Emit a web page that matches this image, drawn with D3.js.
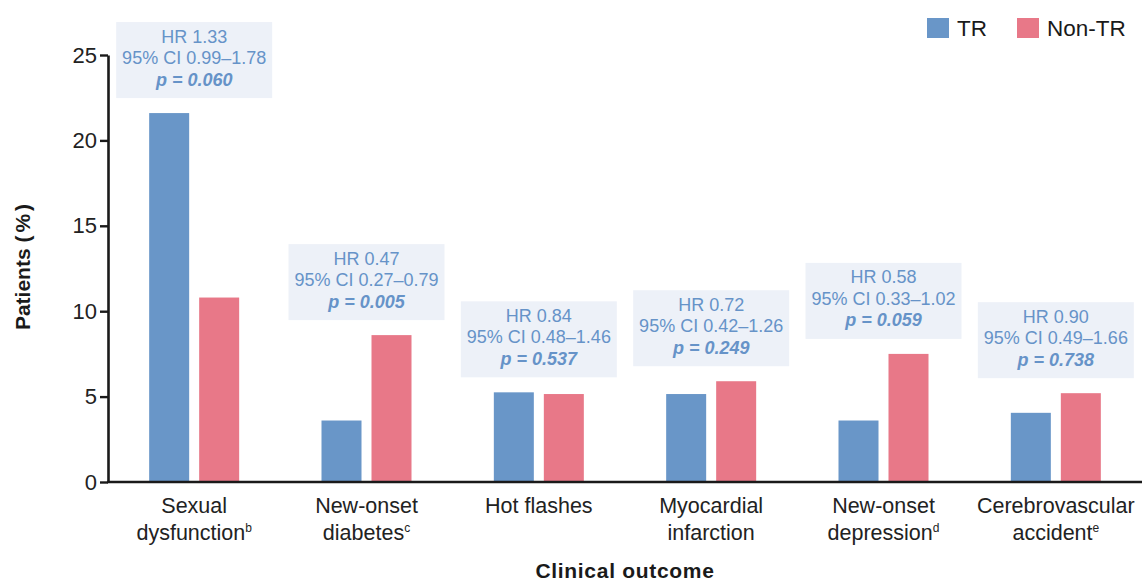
<!DOCTYPE html>
<html>
<head>
<meta charset="utf-8">
<script src="https://cdn.jsdelivr.net/npm/d3@7"></script>
<style>
  html, body { margin: 0; padding: 0; background: #fff; }
  svg { display: block; font-family: "Liberation Sans", Arial, Helvetica, sans-serif; }
</style>
</head>
<body>
<svg id="chart" width="1142" height="582"></svg>
<script>
// Outcome categories and their two-line axis labels
const categories = ["Sexual dysfunction", "New-onset diabetes", "Hot flashes",
  "Myocardial infarction", "New-onset depression", "Cerebrovascular accident"];
const labelLines = [["Sexual", "dysfunction"], ["New-onset", "diabetes"], ["Hot flashes", ""],
  ["Myocardial", "infarction"], ["New-onset", "depression"], ["Cerebrovascular", "accident"]];
const footnotes = ["b", "c", "", "", "d", "e"];

// Share of patients with each outcome (%)
const seriesNames = ["TR", "Non-TR"];
const trValues = [21.6, 3.6, 5.25, 5.15, 3.6, 4.05];
const nonTrValues = [10.8, 8.6, 5.15, 5.9, 7.5, 5.2];

// Hazard ratio statistics per outcome
const hazardRatios = ["1.33", "0.47", "0.84", "0.72", "0.58", "0.90"];
const ciLower = ["0.99", "0.27", "0.48", "0.42", "0.33", "0.49"];
const ciUpper = ["1.78", "0.79", "1.46", "1.26", "1.02", "1.66"];
const pValues = ["0.060", "0.005", "0.537", "0.249", "0.059", "0.738"];

const yTicks = [0, 5, 10, 15, 20, 25];

const colors = { "TR": "#6996c8", "Non-TR": "#e87888" };
const annotColor = "#6693c8";

const svg = d3.select("#chart");
const plotLeft = 108, plotRight = 1142, plotTop = 55, plotBottom = 482;

const y = d3.scaleLinear().domain([0, 25]).range([plotBottom, plotTop]);
const x0 = d3.scaleBand().domain(categories).range([plotLeft, plotRight]).padding(0);
const groupW = 90;
const x1 = d3.scaleBand().domain(seriesNames)
  .range([x0.bandwidth() / 2 - groupW / 2, x0.bandwidth() / 2 + groupW / 2])
  .paddingInner(0.2).paddingOuter(0);

const rows = categories.map((c, i) => ({
  cat: c, i,
  values: [{ s: "TR", v: trValues[i] }, { s: "Non-TR", v: nonTrValues[i] }]
}));

// Bars
const groups = svg.append("g").selectAll("g").data(rows).join("g")
  .attr("transform", d => `translate(${x0(d.cat)},0)`);
groups.selectAll("rect").data(d => d.values).join("rect")
  .attr("x", d => x1(d.s))
  .attr("width", x1.bandwidth())
  .attr("y", d => y(d.v))
  .attr("height", d => y(0) - y(d.v))
  .attr("fill", d => colors[d.s]);

// Hazard ratio boxes above each pair of bars
const boxW = 156, boxH = 76;
const ann = svg.append("g").selectAll("g").data(rows).join("g")
  .attr("transform", d => {
    const cx = x0(d.cat) + x0.bandwidth() / 2;
    const topY = y(d3.max(d.values, v => v.v)) - 15 - boxH;
    return `translate(${cx},${topY})`;
  });
ann.append("rect")
  .attr("x", -boxW / 2).attr("y", 0)
  .attr("width", boxW).attr("height", boxH)
  .attr("fill", "#edf1f8");
ann.append("text")
  .attr("text-anchor", "middle").attr("y", 20.5)
  .attr("font-size", 18).attr("fill", annotColor)
  .text(d => `HR ${hazardRatios[d.i]}`);
ann.append("text")
  .attr("text-anchor", "middle").attr("y", 42)
  .attr("font-size", 18).attr("fill", annotColor)
  .text(d => `95% CI ${ciLower[d.i]}\u2013${ciUpper[d.i]}`);
ann.append("text")
  .attr("text-anchor", "middle").attr("y", 63.5)
  .attr("font-size", 18).attr("fill", annotColor)
  .attr("font-weight", "bold").attr("font-style", "italic")
  .text(d => `p = ${pValues[d.i]}`);

// Y axis
const yAxis = svg.append("g")
  .attr("transform", `translate(${plotLeft},0)`)
  .call(d3.axisLeft(y).tickValues(yTicks).tickSize(8).tickPadding(3).tickSizeOuter(0));
yAxis.select(".domain").attr("stroke", "#1a1a1a").attr("stroke-width", 2.6);
yAxis.selectAll(".tick line").attr("stroke", "#1a1a1a").attr("stroke-width", 2.4);
yAxis.selectAll(".tick text").attr("font-size", 22).attr("fill", "#222")
  .attr("font-family", "'Liberation Sans', Arial, sans-serif");

// X axis baseline with category labels
const xAxis = svg.append("g")
  .attr("transform", `translate(0,${plotBottom})`)
  .call(d3.axisBottom(x0).tickSize(0).tickSizeOuter(0).tickFormat(""));
xAxis.select(".domain").attr("stroke", "#1a1a1a").attr("stroke-width", 2.6)
  .attr("d", `M${plotLeft - 1},0H${plotRight}`);

const catLabels = svg.append("g").selectAll("g").data(rows).join("g")
  .attr("transform", d => `translate(${x0(d.cat) + x0.bandwidth() / 2},0)`);
catLabels.append("text")
  .attr("text-anchor", "middle").attr("y", 513)
  .attr("font-size", 21.5).attr("fill", "#222")
  .text(d => labelLines[d.i][0]);
const line2 = catLabels.append("text")
  .attr("text-anchor", "middle").attr("y", 540)
  .attr("font-size", 21.5).attr("fill", "#222");
line2.append("tspan").text(d => labelLines[d.i][1]);
line2.filter(d => footnotes[d.i]).append("tspan")
  .attr("font-size", 12).attr("dy", -8)
  .text(d => footnotes[d.i]);

// Axis titles
svg.append("text")
  .attr("transform", "translate(30,267) rotate(-90)")
  .attr("text-anchor", "middle")
  .attr("font-size", 21).attr("font-weight", "bold").attr("fill", "#1a1a1a")
  .call(t => {
    t.append("tspan").text("Patients (");
    t.append("tspan").attr("dx", 3).text("%");
    t.append("tspan").attr("dx", 3).text(")");
  });
svg.append("text")
  .attr("x", 625).attr("y", 578)
  .attr("text-anchor", "middle")
  .attr("font-size", 21).attr("font-weight", "bold").attr("fill", "#1a1a1a")
  .attr("letter-spacing", 0.7)
  .text("Clinical outcome");

// Legend
const legendX = [927, 1017];
const legend = svg.append("g").selectAll("g").data(seriesNames).join("g")
  .attr("transform", (d, i) => `translate(${legendX[i]},18)`);
legend.append("rect").attr("width", 22).attr("height", 20).attr("fill", d => colors[d]);
legend.append("text").attr("x", 30).attr("y", 18)
  .attr("font-size", 22.5).attr("fill", "#1a1a1a")
  .text(d => d);
</script>
</body>
</html>
